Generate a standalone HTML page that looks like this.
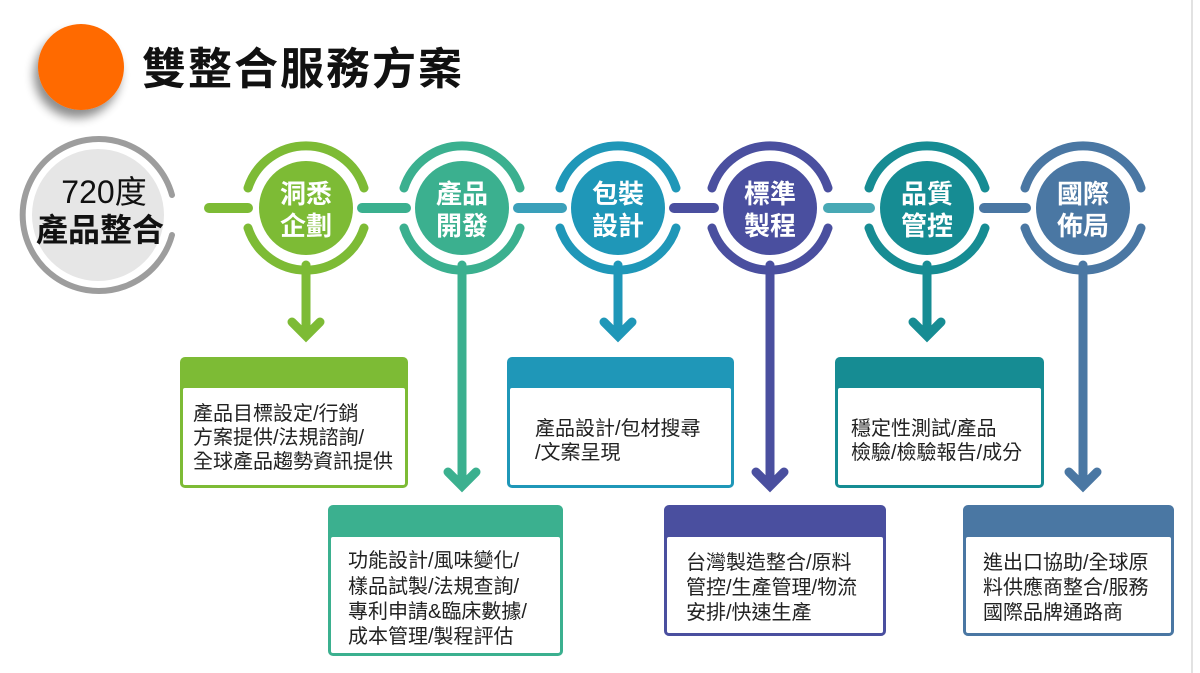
<!DOCTYPE html>
<html><head><meta charset="utf-8"><style>
html,body{margin:0;padding:0;background:#fff;width:1200px;height:673px;overflow:hidden}
svg{display:block}
text{font-family:"Liberation Sans","Noto Sans CJK TC",sans-serif}
.n{font-size:26px;font-weight:bold;fill:#fff;text-anchor:middle}
.b{font-size:20px;fill:#222}
</style></head><body>
<svg width="1200" height="673" viewBox="0 0 1200 673">
<defs>
<filter id="sh" x="-50%" y="-50%" width="200%" height="200%"><feGaussianBlur in="SourceAlpha" stdDeviation="5"/><feOffset dx="-4" dy="8"/><feComponentTransfer><feFuncA type="linear" slope="0.45"/></feComponentTransfer><feMerge><feMergeNode/><feMergeNode in="SourceGraphic"/></feMerge></filter>
</defs>
<line x1="1192" y1="0" x2="1192" y2="673" stroke="#e2e2e2" stroke-width="2"/>
<circle cx="81" cy="67" r="43" fill="#ff6a06" filter="url(#sh)"/>
<text x="142" y="84" font-size="44" font-weight="bold" fill="#111" letter-spacing="2">雙整合服務方案</text>

<circle cx="98" cy="215" r="66" fill="#e6e6e6"/>
<path d="M172,195 A76,76 0 1 0 172,235" fill="none" stroke="#9d9d9d" stroke-width="6" stroke-linecap="round"/>
<text x="104" y="203" font-size="32" fill="#111" text-anchor="middle">720度</text>
<text x="100" y="241" font-size="32" font-weight="bold" fill="#111" text-anchor="middle">產品整合</text>

<g stroke-width="10" stroke-linecap="round">
<line x1="209" y1="208" x2="248" y2="208" stroke="#7dbb35"/>
<line x1="362" y1="208" x2="406" y2="208" stroke="#3bb08f"/>
<line x1="518" y1="208" x2="562" y2="208" stroke="#3aa0ba"/>
<line x1="674" y1="208" x2="714" y2="208" stroke="#4a4f9f"/>
<line x1="828" y1="208" x2="870" y2="208" stroke="#48a9b5"/>
<line x1="984" y1="208" x2="1026" y2="208" stroke="#4a77a3"/>
</g>

<g stroke="#7dbb35" fill="none" stroke-width="9" stroke-linecap="round">
<path d="M248,188 A61,61 0 0 1 364,188"/><path d="M364,228 A61,61 0 0 1 248,228"/>
<line x1="306" y1="265" x2="306" y2="334"/><path d="M292,322 L306,336 L320,322"/>
</g>
<circle cx="306" cy="208" r="47" fill="#7dbb35"/>
<text class="n" x="306" y="203">洞悉</text><text class="n" x="306" y="235">企劃</text>

<g stroke="#3bb08f" fill="none" stroke-width="9" stroke-linecap="round">
<path d="M404,188 A61,61 0 0 1 520,188"/><path d="M520,228 A61,61 0 0 1 404,228"/>
<line x1="462" y1="265" x2="462" y2="484"/><path d="M448,472 L462,486 L476,472"/>
</g>
<circle cx="462" cy="208" r="47" fill="#3bb08f"/>
<text class="n" x="462" y="203">產品</text><text class="n" x="462" y="235">開發</text>

<g stroke="#1f97b8" fill="none" stroke-width="9" stroke-linecap="round">
<path d="M560,188 A61,61 0 0 1 676,188"/><path d="M676,228 A61,61 0 0 1 560,228"/>
<line x1="618" y1="265" x2="618" y2="334"/><path d="M604,322 L618,336 L632,322"/>
</g>
<circle cx="618" cy="208" r="47" fill="#1f97b8"/>
<text class="n" x="618" y="203">包裝</text><text class="n" x="618" y="235">設計</text>

<g stroke="#4a4f9f" fill="none" stroke-width="9" stroke-linecap="round">
<path d="M712,188 A61,61 0 0 1 828,188"/><path d="M828,228 A61,61 0 0 1 712,228"/>
<line x1="770" y1="265" x2="770" y2="484"/><path d="M756,472 L770,486 L784,472"/>
</g>
<circle cx="770" cy="208" r="47" fill="#4a4f9f"/>
<text class="n" x="770" y="203">標準</text><text class="n" x="770" y="235">製程</text>

<g stroke="#168c93" fill="none" stroke-width="9" stroke-linecap="round">
<path d="M869,188 A61,61 0 0 1 985,188"/><path d="M985,228 A61,61 0 0 1 869,228"/>
<line x1="927" y1="265" x2="927" y2="334"/><path d="M913,322 L927,336 L941,322"/>
</g>
<circle cx="927" cy="208" r="47" fill="#168c93"/>
<text class="n" x="927" y="203">品質</text><text class="n" x="927" y="235">管控</text>

<g stroke="#4a77a3" fill="none" stroke-width="9" stroke-linecap="round">
<path d="M1025,188 A61,61 0 0 1 1141,188"/><path d="M1141,228 A61,61 0 0 1 1025,228"/>
<line x1="1083" y1="265" x2="1083" y2="484"/><path d="M1069,472 L1083,486 L1097,472"/>
</g>
<circle cx="1083" cy="208" r="47" fill="#4a77a3"/>
<text class="n" x="1083" y="203">國際</text><text class="n" x="1083" y="235">佈局</text>

<rect x="180" y="357" width="228" height="131" rx="5" fill="#7dbb35"/>
<rect x="183" y="388" width="222" height="97" rx="2" fill="#fff"/>
<text class="b" x="193" y="420">產品目標設定/行銷</text>
<text class="b" x="193" y="444">方案提供/法規諮詢/</text>
<text class="b" x="193" y="468">全球產品趨勢資訊提供</text>

<rect x="328" y="505" width="235" height="151" rx="5" fill="#3bb08f"/>
<rect x="331" y="537" width="229" height="116" rx="2" fill="#fff"/>
<text class="b" x="348" y="567">功能設計/風味變化/</text>
<text class="b" x="348" y="593">樣品試製/法規查詢/</text>
<text class="b" x="348" y="618">專利申請&amp;臨床數據/</text>
<text class="b" x="348" y="643">成本管理/製程評估</text>

<rect x="507" y="357" width="227" height="131" rx="5" fill="#1f97b8"/>
<rect x="510" y="388" width="221" height="97" rx="2" fill="#fff"/>
<text class="b" x="535" y="435">產品設計/包材搜尋</text>
<text class="b" x="535" y="459">/文案呈現</text>

<rect x="664" y="505" width="222" height="131" rx="5" fill="#4a4f9f"/>
<rect x="667" y="537" width="216" height="96" rx="2" fill="#fff"/>
<text class="b" x="686" y="569">台灣製造整合/原料</text>
<text class="b" x="686" y="594">管控/生產管理/物流</text>
<text class="b" x="686" y="619">安排/快速生產</text>

<rect x="835" y="357" width="209" height="131" rx="5" fill="#168c93"/>
<rect x="838" y="388" width="203" height="97" rx="2" fill="#fff"/>
<text class="b" x="851" y="435">穩定性測試/產品</text>
<text class="b" x="851" y="459">檢驗/檢驗報告/成分</text>

<rect x="963" y="505" width="211" height="131" rx="5" fill="#4a77a3"/>
<rect x="966" y="537" width="205" height="96" rx="2" fill="#fff"/>
<text class="b" x="983" y="569">進出口協助/全球原</text>
<text class="b" x="983" y="594">料供應商整合/服務</text>
<text class="b" x="983" y="619">國際品牌通路商</text>
</svg>
</body></html>
